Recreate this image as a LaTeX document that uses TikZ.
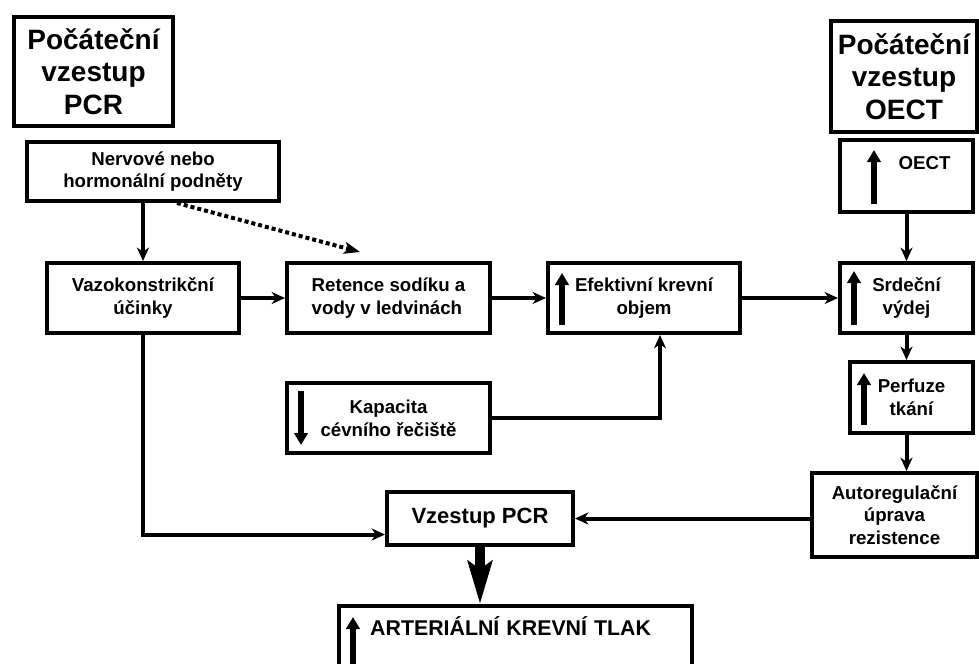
\documentclass[tikz,border=0pt]{standalone}
\usepackage{fontspec}
\setmainfont{Liberation Sans}
\usepackage{tikz}
\usetikzlibrary{arrows.meta, positioning}
\newcommand{\txtfont}{\fontsize{14}{17}\selectfont\bfseries}
\newcommand{\ttlfont}{\fontsize{21}{24.6}\selectfont\bfseries}
\newcommand{\bigtxtfont}{\fontsize{16.5}{19}\selectfont\bfseries}
\newcommand{\alarmfont}{\fontsize{16}{19}\selectfont\bfseries}

\begin{document}
\begin{tikzpicture}[
  x=0.75pt, y=-0.75pt,
  box/.style={draw, line width=3pt, align=center, font=\txtfont, inner sep=3pt},
  headbox/.style={box, font=\ttlfont},
  bigbox/.style={box, font=\bigtxtfont},
  flow/.style={-{Stealth[length=10pt, width=9pt, inset=3pt]}, line width=3pt},
  dashflow/.style={-{Stealth[length=12pt, width=9pt, inset=3pt]}, line width=3pt, dash pattern=on 3pt off 2.25pt},
  bigflow/.style={-{Stealth[length=32pt, width=18pt, inset=6pt]}, line width=7.5pt},
  ind/.style={-{Triangle[length=9pt, width=10pt]}, line width=5pt}
]
\useasboundingbox (0,0) rectangle (979,664);
\clip (0,0) rectangle (979,664);

\node[headbox, minimum width=119.25pt, minimum height=81.75pt] (pcrhead) at (93.5,71.5) {Počáteční\\vzestup\\PCR};
\node[headbox, minimum width=109.5pt, minimum height=83.25pt] (oecthead) at (904,76.5) {Počáteční\\vzestup\\OECT};
\node[box, minimum width=189pt, minimum height=44.25pt] (stimuli) at (153,171.5) {Nervové nebo\\hormonální podněty};
\node[box, minimum width=144pt, minimum height=52.5pt] (vaso) at (143,298) {Vazokonstrikční\\účinky};
\node[box, align=left, minimum width=152.25pt, minimum height=52.5pt, right=33pt of vaso] (retention) {Retence sodíku a\\vody v ledvinách};
\node[box, minimum width=144pt, minimum height=52.5pt, right=40.5pt of retention] (volume) {Efektivní krevní\\objem};
\node[box, minimum width=152.25pt, minimum height=52.5pt, below=34.5pt of retention] (capacity) {Kapacita\\cévního řečiště};
\node[box, minimum width=99.75pt, minimum height=52.5pt, right=72pt of volume] (output) {Srdeční\\výdej};
\node[box, align=right, text width=66pt, inner xsep=16.9pt, minimum height=54pt, text depth=19pt, above=35.25pt of output] (oect) {OECT};
\node[box, minimum width=92.25pt, minimum height=53.25pt, below left=18.75pt and 0pt of output.south east] (perf) {Perfuze\\tkání};
\node[box, minimum width=123.75pt, minimum height=63pt, below left=27pt and -3pt of perf.south east] (autoreg) {Autoregulační\\úprava\\rezistence};
\node[bigbox, minimum width=139.5pt, minimum height=39.75pt] (vzes) at (480,518.5) {Vzestup PCR};
\node[bigbox, font=\alarmfont, anchor=north west, align=left, text width=218pt, inner xsep=23.4pt, inner ysep=5pt, text height=16.75pt, text depth=60pt] (pressure) at (337,604) {ARTERIÁLNÍ KREVNÍ TLAK};
\coordinate (dashtip) at (360,252);

\draw[ind] ([xshift=12pt, yshift=7.5pt]volume.south west) -- ([xshift=12pt, yshift=-9pt]volume.north west);
\draw[ind] ([xshift=27pt, yshift=7.5pt]oect.south west) -- ([xshift=27pt, yshift=-9pt]oect.north west);
\draw[ind] ([xshift=12pt, yshift=7.5pt]output.south west) -- ([xshift=12pt, yshift=-7.5pt]output.north west);
\draw[ind] ([xshift=12pt, yshift=7.5pt]perf.south west) -- ([xshift=12pt, yshift=-9.75pt]perf.north west);
\draw[ind] ([xshift=12pt, yshift=-7.5pt]capacity.north west) -- ([xshift=12pt, yshift=7.5pt]capacity.south west);
\draw[ind] ([xshift=12pt]pressure.south west) -- ([xshift=12pt, yshift=-9.75pt]pressure.north west);

\draw[flow] (stimuli.south -| vaso) -- (vaso);
\draw[dashflow] ([xshift=18pt]stimuli.south) -- (dashtip);
\draw[flow] (vaso) -- (retention);
\draw[flow] (retention) -- (volume);
\draw[flow] (volume) -- (output);
\draw[flow] (capacity.east) -| ([xshift=12pt]volume.south);
\draw[flow] (oect) -- (output);
\draw[flow] (output) -- (output |- perf.north);
\draw[flow] (output |- perf.south) -- (output |- autoreg.north);
\draw[flow] (autoreg.west |- vzes) -- (vzes);
\draw[flow] (vaso) |- ([yshift=-12pt]vzes.west);
\draw[bigflow] (vzes) -- (vzes |- pressure.north);
\end{tikzpicture}
\end{document}
